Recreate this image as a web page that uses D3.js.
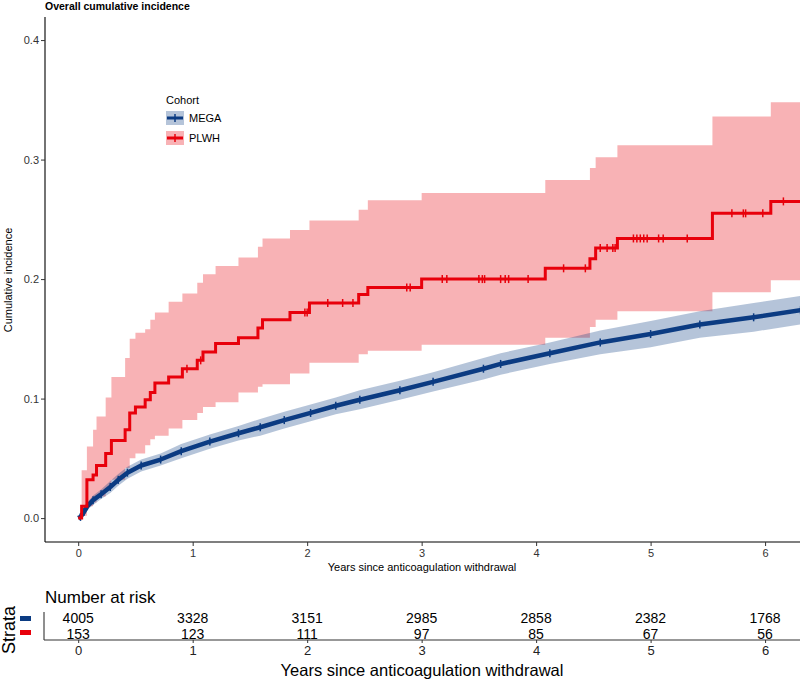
<!DOCTYPE html>
<html>
<head>
<meta charset="utf-8">
<script src="https://cdn.jsdelivr.net/npm/d3@7"></script>
<style>
  html, body { margin: 0; padding: 0; background: #fff; }
  svg { display: block; font-family: "Liberation Sans", Arial, sans-serif; }
</style>
</head>
<body>
<svg id="chart" width="800" height="679"></svg>
<script>
// ---------------- DATA ----------------
const yTicks = [0.0, 0.1, 0.2, 0.3, 0.4];
const xTicks = [0, 1, 2, 3, 4, 5, 6];
const cohorts = ["MEGA", "PLWH"];

// MEGA cohort (smooth, many events)
const megaTime  = [0, 0.02, 0.05, 0.08, 0.13, 0.2, 0.28, 0.35, 0.43, 0.55, 0.72, 0.9, 1.15, 1.4, 1.59, 1.8, 2.03, 2.25, 2.46, 2.81, 3.1, 3.54, 3.69, 4.12, 4.56, 5.0, 5.43, 5.9, 6.31];
const megaEst   = [0, 0.001, 0.005, 0.010, 0.015, 0.020, 0.026, 0.032, 0.038, 0.044, 0.049, 0.056, 0.064, 0.071, 0.076, 0.082, 0.088, 0.094, 0.099, 0.107, 0.114, 0.125, 0.129, 0.138, 0.147, 0.154, 0.162, 0.168, 0.174];
const megaLower = [0, 0.000, 0.003, 0.007, 0.011, 0.016, 0.021, 0.027, 0.033, 0.039, 0.044, 0.050, 0.058, 0.065, 0.069, 0.075, 0.081, 0.087, 0.091, 0.099, 0.106, 0.116, 0.120, 0.129, 0.137, 0.143, 0.151, 0.156, 0.162];
const megaUpper = [0, 0.002, 0.007, 0.013, 0.019, 0.024, 0.031, 0.037, 0.043, 0.049, 0.054, 0.062, 0.070, 0.077, 0.083, 0.089, 0.095, 0.101, 0.107, 0.115, 0.122, 0.134, 0.138, 0.147, 0.157, 0.165, 0.173, 0.180, 0.186];

// PLWH cohort (step function)
const plwhTime  = [0, 0.03, 0.076, 0.13, 0.16, 0.24, 0.29, 0.41, 0.45, 0.50, 0.585, 0.63, 0.67, 0.79, 0.91, 1.04, 1.09, 1.20, 1.40, 1.57, 1.61, 1.85, 2.02, 2.45, 2.53, 3.0, 4.08, 4.47, 4.52, 4.71, 5.54, 6.05, 6.31];
const plwhEst   = [0, 0.010, 0.032, 0.036, 0.044, 0.054, 0.065, 0.074, 0.088, 0.093, 0.099, 0.105, 0.113, 0.118, 0.125, 0.132, 0.139, 0.146, 0.151, 0.159, 0.166, 0.172, 0.180, 0.187, 0.193, 0.200, 0.209, 0.217, 0.226, 0.234, 0.255, 0.265, 0.265];
const plwhLower = [0, 0.002, 0.010, 0.013, 0.018, 0.024, 0.032, 0.042, 0.050, 0.054, 0.061, 0.066, 0.069, 0.075, 0.082, 0.088, 0.093, 0.097, 0.105, 0.110, 0.112, 0.121, 0.130, 0.137, 0.140, 0.145, 0.151, 0.160, 0.166, 0.173, 0.189, 0.199, 0.199];
const plwhUpper = [0, 0.040, 0.060, 0.074, 0.085, 0.101, 0.118, 0.134, 0.150, 0.155, 0.158, 0.166, 0.172, 0.181, 0.188, 0.197, 0.204, 0.211, 0.218, 0.227, 0.234, 0.241, 0.249, 0.258, 0.266, 0.272, 0.283, 0.293, 0.302, 0.312, 0.336, 0.348, 0.348];
const plwhCensor = [0.95, 1.07, 1.98, 2.0, 2.18, 2.31, 2.40, 2.87, 2.90, 3.18, 3.22, 3.50, 3.53, 3.55, 3.69, 3.73, 3.76, 3.93, 4.24, 4.43, 4.56, 4.62, 4.67, 4.69, 4.85, 4.88, 4.91, 4.94, 4.97, 5.07, 5.11, 5.32, 5.71, 5.81, 5.83, 5.98, 6.16];

// Number at risk table
const riskTimes = [0, 1, 2, 3, 4, 5, 6];
const riskMEGA  = [4005, 3328, 3151, 2985, 2858, 2382, 1768];
const riskPLWH  = [153, 123, 111, 97, 85, 67, 56];

// ---------------- STYLE ----------------
const colMEGA = "#0b3b82";
const colPLWH = "#e8000b";

const svg = d3.select("#chart");

const x = d3.scaleLinear().domain([-0.29, 6.305]).range([45, 800]);
const y = d3.scaleLinear().domain([-0.02, 0.4193]).range([542, 17]);

const defs = svg.append("defs");
defs.append("clipPath").attr("id", "clip")
  .append("rect").attr("x", 45).attr("y", 0).attr("width", 755).attr("height", 542);

const plot = svg.append("g").attr("clip-path", "url(#clip)");

function rows(t, e, lo, up) { return t.map((d, i) => ({t: d, e: e[i], lo: lo[i], up: up[i]})); }
const mega = rows(megaTime, megaEst, megaLower, megaUpper);
const plwh = rows(plwhTime, plwhEst, plwhLower, plwhUpper);

// bands
plot.append("path").datum(plwh)
  .attr("d", d3.area().curve(d3.curveStepAfter).x(d => x(d.t)).y0(d => y(d.lo)).y1(d => y(d.up)))
  .attr("fill", colPLWH).attr("fill-opacity", 0.3);
plot.append("path").datum(mega)
  .attr("d", d3.area().x(d => x(d.t)).y0(d => y(d.lo)).y1(d => y(d.up)))
  .attr("fill", colMEGA).attr("fill-opacity", 0.3);

// lines
plot.append("path").datum(mega)
  .attr("d", d3.line().x(d => x(d.t)).y(d => y(d.e)))
  .attr("fill", "none").attr("stroke", colMEGA).attr("stroke-width", 4.5).attr("stroke-linejoin", "round");
// MEGA censor marks
plot.append("g").selectAll("line").data(mega.slice(1)).join("line")
  .attr("x1", d => x(d.t)).attr("x2", d => x(d.t))
  .attr("y1", d => y(d.e) - 4).attr("y2", d => y(d.e) + 4)
  .attr("stroke", colMEGA).attr("stroke-width", 1.5);

plot.append("path").datum(plwh)
  .attr("d", d3.line().curve(d3.curveStepAfter).x(d => x(d.t)).y(d => y(d.e)))
  .attr("fill", "none").attr("stroke", colPLWH).attr("stroke-width", 3);

function plwhAt(t) {
  let v = 0;
  for (let i = 0; i < plwhTime.length; i++) if (plwhTime[i] <= t) v = plwhEst[i];
  return v;
}
plot.append("g").selectAll("line").data(plwhCensor).join("line")
  .attr("x1", d => x(d)).attr("x2", d => x(d))
  .attr("y1", d => y(plwhAt(d)) - 4).attr("y2", d => y(plwhAt(d)) + 4)
  .attr("stroke", colPLWH).attr("stroke-width", 1.5);

// axes
const yAxis = svg.append("g").attr("transform", "translate(45,0)")
  .call(d3.axisLeft(y).tickValues(yTicks).tickFormat(d3.format(".1f")).tickSize(4).tickPadding(2));
const xAxis = svg.append("g").attr("transform", "translate(0,542)")
  .call(d3.axisBottom(x).tickValues(xTicks).tickFormat(d3.format("d")).tickSize(4).tickPadding(3));
[yAxis, xAxis].forEach(a => {
  a.select(".domain").attr("stroke", "#000").attr("stroke-width", 1.1);
  a.selectAll(".tick line").attr("stroke", "#333");
  a.selectAll(".tick text").attr("font-size", 11).attr("fill", "#333")
    .attr("font-family", "'Liberation Sans', Arial, sans-serif");
});
yAxis.select(".domain").attr("d", "M0,17V542");
xAxis.select(".domain").attr("d", "M45,0H800");

// titles
svg.append("text").attr("x", 45).attr("y", 9.5)
  .attr("font-size", 10.5).attr("font-weight", "bold").text("Overall cumulative incidence");
svg.append("text").attr("transform", "translate(12,280) rotate(-90)")
  .attr("text-anchor", "middle").attr("font-size", 11).text("Cumulative incidence");
svg.append("text").attr("x", 422).attr("y", 571)
  .attr("text-anchor", "middle").attr("font-size", 11).text("Years since anticoagulation withdrawal");

// legend
const leg = svg.append("g").attr("transform", "translate(166,0)");
leg.append("text").attr("x", 0).attr("y", 104).attr("font-size", 11).text("Cohort");
const legY = [118, 138];
const legCol = [colMEGA, colPLWH];
cohorts.forEach((c, i) => {
  const g = leg.append("g");
  g.append("rect").attr("x", 0).attr("y", legY[i] - 7).attr("width", 18).attr("height", 14)
    .attr("fill", legCol[i]).attr("fill-opacity", 0.3);
  g.append("line").attr("x1", 1).attr("x2", 17).attr("y1", legY[i]).attr("y2", legY[i])
    .attr("stroke", legCol[i]).attr("stroke-width", 3);
  g.append("line").attr("x1", 9).attr("x2", 9).attr("y1", legY[i] - 4).attr("y2", legY[i] + 4)
    .attr("stroke", legCol[i]).attr("stroke-width", 1.5);
  g.append("text").attr("x", 23).attr("y", legY[i] + 4).attr("font-size", 11).text(c);
});

// ---------------- RISK TABLE ----------------
svg.append("text").attr("x", 45).attr("y", 603).attr("font-size", 17).text("Number at risk");
svg.append("text").attr("transform", "translate(15,630) rotate(-90)")
  .attr("text-anchor", "middle").attr("font-size", 18).text("Strata");
svg.append("rect").attr("x", 20).attr("y", 616).attr("width", 11).attr("height", 5).attr("fill", colMEGA);
svg.append("rect").attr("x", 20).attr("y", 630).attr("width", 11).attr("height", 5).attr("fill", colPLWH);

const tAxis = svg.append("g").attr("transform", "translate(0,640)")
  .call(d3.axisBottom(x).tickValues(riskTimes).tickFormat(d3.format("d")).tickSize(3).tickPadding(3));
tAxis.select(".domain").attr("d", "M44,0H800").attr("stroke", "#333").attr("stroke-width", 1.1);
tAxis.selectAll(".tick line").attr("stroke", "#333");
tAxis.selectAll(".tick text").attr("font-size", 13).attr("fill", "#222")
  .attr("font-family", "'Liberation Sans', Arial, sans-serif");
svg.append("line").attr("x1", 44).attr("x2", 44).attr("y1", 612).attr("y2", 640)
  .attr("stroke", "#333").attr("stroke-width", 1.1);

svg.append("g").selectAll("text").data(riskTimes).join("text")
  .attr("x", d => x(d)).attr("y", 623).attr("text-anchor", "middle").attr("font-size", 14)
  .text((d, i) => riskMEGA[i]);
svg.append("g").selectAll("text").data(riskTimes).join("text")
  .attr("x", d => x(d)).attr("y", 638.5).attr("text-anchor", "middle").attr("font-size", 14)
  .text((d, i) => riskPLWH[i]);

svg.append("text").attr("x", 422).attr("y", 676).attr("text-anchor", "middle")
  .attr("font-size", 16.5).text("Years since anticoagulation withdrawal");
</script>
</body>
</html>
